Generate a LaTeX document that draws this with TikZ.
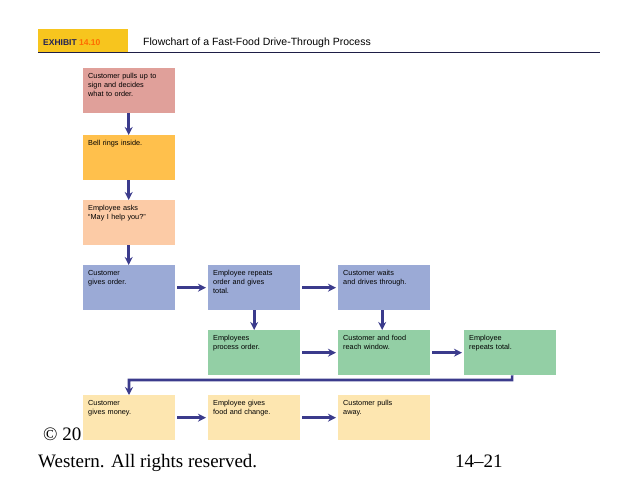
\documentclass[tikz,border=0pt]{standalone}
\usepackage{fontspec}
\setmainfont{Liberation Serif}
\newfontfamily\boxfont{Liberation Sans}
\usetikzlibrary{arrows.meta}
\definecolor{arr}{HTML}{3B3B8C}
\definecolor{cRed}{HTML}{E0A09A}
\definecolor{cOra}{HTML}{FFC04C}
\definecolor{cPea}{HTML}{FCCBA6}
\definecolor{cBlu}{HTML}{9BAAD6}
\definecolor{cGrn}{HTML}{93CFA5}
\definecolor{cYel}{HTML}{FDE6B0}
\definecolor{hdr}{HTML}{F7C51E}
\tikzset{
  fbox/.style={minimum width=92pt,minimum height=45pt,inner sep=0pt,anchor=north west},
  lbl/.style={anchor=north west,align=left,font=\boxfont\fontsize{7.3}{9}\selectfont,inner sep=0pt,text width=88pt},
  flow/.style={draw=arr,line width=2.6pt,-{Stealth[length=8pt,width=8pt]}},
}
\begin{document}
\begin{tikzpicture}[x=1pt,y=-1pt]
\useasboundingbox (0,0) rectangle (638,479);
\fill[white] (0,0) rectangle (638,479);
% header
\fill[hdr] (38,29) rectangle (128,52);
\node[anchor=west,font=\boxfont\bfseries\fontsize{8.5}{10}\selectfont,text=arr!60!black,inner sep=0pt] (ex) at (43,43) {EXHIBIT \textcolor{orange!85!red}{14.10}};
\node[anchor=west,font=\boxfont\fontsize{10.5}{12}\selectfont,inner sep=0pt] (ttl) at (143,43) {Flowchart of a Fast-Food Drive-Through Process};
\draw[arr!50!black,line width=1pt] (38,52.5) -- (600,52.5);
% footer text (behind boxes)
\node[anchor=base west,font=\fontsize{19}{21}\selectfont,inner sep=0pt] (cp) at (43,440) {© 20};
\node[anchor=base west,font=\fontsize{19}{21}\selectfont,inner sep=0pt] (wr) at (38,467) {Western. All rights reserved.};
\node[anchor=base west,font=\fontsize{19}{21}\selectfont,inner sep=0pt] (pg) at (455,467) {14–21};
% boxes
\newcommand{\fb}[5]{\node[fbox,fill=#4] (#1) at (#2,#3) {}; \node[lbl] at ([xshift=5pt,yshift=-5pt]#1.north west) {#5};}
\fb{a}{83}{68}{cRed}{Customer pulls up to\\sign and decides\\what to order.}
\fb{b}{83}{135}{cOra}{Bell rings inside.}
\fb{c}{83}{200}{cPea}{Employee asks\\“May I help you?”}
\fb{d}{83}{265}{cBlu}{Customer\\gives order.}
\fb{e}{208}{265}{cBlu}{Employee repeats\\order and gives\\total.}
\fb{f}{338}{265}{cBlu}{Customer waits\\and drives through.}
\fb{g}{208}{330}{cGrn}{Employees\\process order.}
\fb{h}{338}{330}{cGrn}{Customer and food\\reach window.}
\fb{i}{464}{330}{cGrn}{Employee\\repeats total.}
\fb{j}{83}{395}{cYel}{Customer\\gives money.}
\fb{k}{208}{395}{cYel}{Employee gives\\food and change.}
\fb{l}{338}{395}{cYel}{Customer pulls\\away.}
\coordinate (t1) at (512,380);
\coordinate (t2) at (129,380);
% arrows
\draw[flow] ([xshift=-0.5pt]a.south) -- ([xshift=-0.5pt]b.north);
\draw[flow] ([xshift=-0.5pt]b.south) -- ([xshift=-0.5pt]c.north);
\draw[flow] ([xshift=-0.5pt]c.south) -- ([xshift=-0.5pt]d.north);
\draw[flow] ([xshift=2pt]d.east) -- ([xshift=-2pt]e.west);
\draw[flow] ([xshift=2pt]e.east) -- ([xshift=-2pt]f.west);
\draw[flow] (e.south) -- (g.north);
\draw[flow] ([xshift=-2pt]f.south) -- ([xshift=-2pt]h.north);
\draw[flow] ([xshift=2pt]g.east) -- ([xshift=-2pt]h.west);
\draw[flow] ([xshift=2pt]h.east) -- ([xshift=-2pt]i.west);
\draw[flow] ([xshift=2pt]i.south) -- (t1) -- (t2) -- (t2 |- j.north);
\draw[flow] ([xshift=2pt]j.east) -- ([xshift=-2pt]k.west);
\draw[flow] ([xshift=2pt]k.east) -- ([xshift=-2pt]l.west);
\end{tikzpicture}
\end{document}
